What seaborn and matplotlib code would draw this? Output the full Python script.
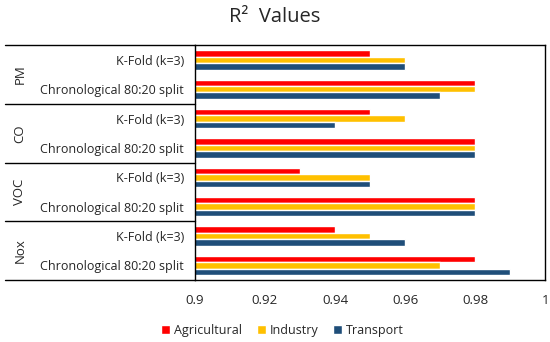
import numpy as np
import pandas as pd
import seaborn as sns
import matplotlib.pyplot as plt

pollutants = ['PM', 'CO', 'VOC', 'Nox']
methods = ['K-Fold (k=3)', 'Chronological 80:20 split']
sectors = ['Agricultural', 'Industry', 'Transport']
colors = ['#FF0000', '#FFC000', '#1F4E79']

# rows top to bottom: PM kfold, PM chrono, CO kfold, ...
agricultural = [0.95, 0.98, 0.95, 0.98, 0.93, 0.98, 0.94, 0.98]
industry = [0.96, 0.98, 0.96, 0.98, 0.95, 0.98, 0.95, 0.97]
transport = [0.96, 0.97, 0.94, 0.98, 0.95, 0.98, 0.96, 0.99]

rows = [p + '|' + m for p in pollutants for m in methods]
df = pd.DataFrame({'row': rows, 'Agricultural': agricultural,
                   'Industry': industry, 'Transport': transport})
long = df.melt(id_vars='row', var_name='sector', value_name='r2')

sns.set_style('white')
plt.rcParams['font.family'] = ['Open Sans', 'DejaVu Sans']

fig = plt.figure(figsize=(5.5, 3.42), dpi=100)
ax = fig.add_axes([0.3545, 0.181, 0.6365, 0.687])

sns.barplot(data=long, y='row', x='r2', hue='sector', order=rows,
            hue_order=sectors, palette=colors, orient='h', width=0.66,
            ax=ax, saturation=1, legend=True)

ax.set_xlim(0.9, 1.0)
ax.set_xticks([0.9, 0.92, 0.94, 0.96, 0.98, 1.0])
ax.set_xticklabels(['0.9', '0.92', '0.94', '0.96', '0.98', '1'], fontsize=9.5)
ax.set_yticks(range(len(rows)))
ax.set_yticklabels([r.split('|')[1] for r in rows], fontsize=9)
ax.tick_params(axis='y', length=0, pad=8)
ax.tick_params(axis='x', length=0, pad=10)
ax.set_xlabel('')
ax.set_ylabel('')
ax.set_ylim(len(rows) - 0.5, -0.5)
for s in ax.spines.values():
    s.set_visible(True)
    s.set_color('black')
    s.set_linewidth(1)

# group separators and labels on the left
trans = ax.get_yaxis_transform()
for b in [-0.5, 1.5, 3.5, 5.5, 7.5]:
    ax.plot([-0.543, 0], [b, b], color='black', lw=1, transform=trans, clip_on=False)
for i, p in enumerate(pollutants):
    ax.text(-0.5, 2 * i + 0.5, p, transform=trans, rotation=90,
            ha='center', va='center', fontsize=9.5)

ax.legend(loc='center', bbox_to_anchor=(0.25, -0.215), ncol=3, frameon=False,
          fontsize=9, handlelength=0.7, handleheight=0.7, handletextpad=0.3,
          columnspacing=1.2)

fig.text(0.5, 0.95, 'R²  Values', ha='center', va='center', fontsize=14.5)

fig.savefig('out.png', dpi=100)
